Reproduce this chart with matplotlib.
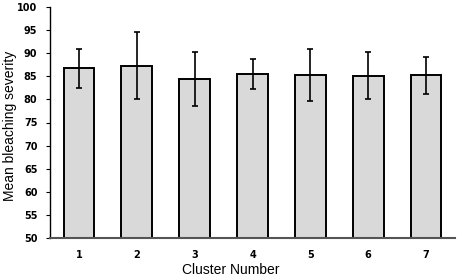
import matplotlib
matplotlib.use("Agg")
import matplotlib.pyplot as plt

clusters = ["1", "2", "3", "4", "5", "6", "7"]
means = [86.7, 87.3, 84.4, 85.5, 85.3, 85.1, 85.2]
errors = [4.3, 7.3, 5.8, 3.2, 5.6, 5.1, 4.0]
yticks = [50, 55, 60, 65, 70, 75, 80, 85, 90, 95, 100]

W, H = 459, 279
fig = plt.figure(figsize=(W / 100, H / 100), dpi=100)
ax = fig.add_axes([50 / W, 1 - 238 / H, (455 - 50) / W, (238 - 7) / H])

x = list(range(1, len(clusters) + 1))
ax.bar(x, [m - 50 for m in means], bottom=50, width=0.53, color="#d9d9d9",
       edgecolor="black", linewidth=1.4, zorder=2)
ax.errorbar(x, means, yerr=errors, fmt="none", ecolor="black", elinewidth=1.2,
            capsize=2.5, capthick=1.2, zorder=3)

ax.set_xlim(0.5, 7.5)
ax.set_ylim(50, 100)
ax.set_yticks(yticks)
ax.set_xticks(x)
ax.set_xticklabels(clusters)
for s in ["top", "right"]:
    ax.spines[s].set_visible(False)
ax.spines["left"].set_color("black")
ax.spines["left"].set_linewidth(1.0)
ax.spines["bottom"].set_color("#555555")
ax.spines["bottom"].set_linewidth(1.5)
ax.tick_params(axis="y", direction="out", length=3, width=0.8, labelsize=7, pad=6)
ax.tick_params(axis="x", length=0, labelsize=7, pad=9)
for lbl in ax.get_xticklabels() + ax.get_yticklabels():
    lbl.set_fontweight("bold")
    lbl.set_fontfamily("DejaVu Sans")

fig.text(10 / W, 1 - 126 / H, "Mean bleaching severity", rotation=90, ha="center",
         va="center", fontsize=10, family="Liberation Sans")
fig.text(231 / W, 1 - 270 / H, "Cluster Number", ha="center", va="center",
         fontsize=10, family="Liberation Sans")

fig.savefig("out.png", dpi=100)
